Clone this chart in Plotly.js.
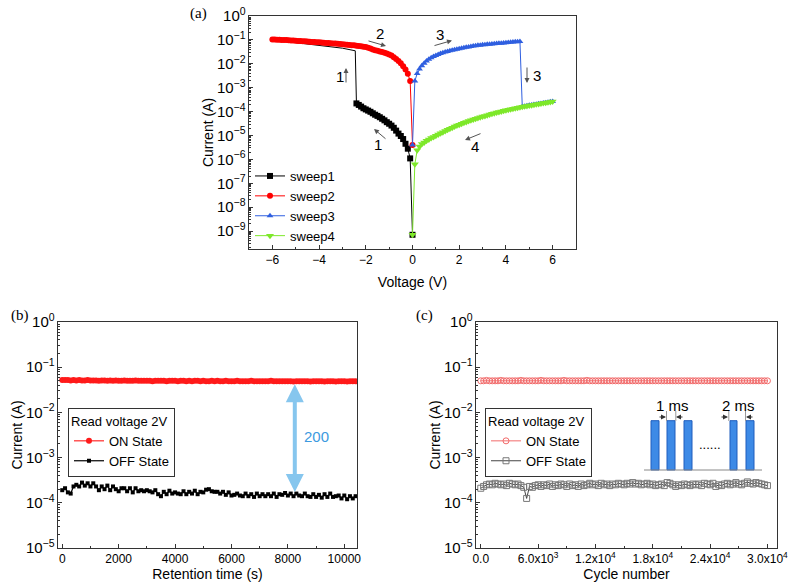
<!DOCTYPE html>
<html>
<head>
<meta charset="utf-8">
<script src="https://cdn.plot.ly/plotly-3.0.1.min.js"></script>
<style>html,body{margin:0;padding:0;background:#fff}#chart{width:791px;height:585px}</style>
</head>
<body>
<div id="chart"></div>
<script>
// ---------- Panel (a): I-V sweeps ----------
var sweep1V = [0,-0.1,-0.2,-0.3,-0.4,-0.5,-0.6,-0.7,-0.8,-0.9,-1.0,-1.1,-1.2,-1.3,-1.4,-1.5,-1.6,-1.7,-1.8,-1.9,-2.0,-2.1,-2.2,-2.3,-2.4];
var sweep1I = [7e-10,1.1e-6,2.8e-6,4.5e-6,7.1e-6,9.5e-6,1.2e-5,1.6e-5,2.1e-5,2.6e-5,3.1e-5,3.6e-5,4.3e-5,5.0e-5,5.8e-5,6.6e-5,7.4e-5,8.5e-5,9.8e-5,1.1e-4,1.23e-4,1.38e-4,1.62e-4,1.9e-4,2.2e-4];
var sweep1OnV = [-2.4,-2.45,-3.0,-4.0,-5.0,-6.0];
var sweep1OnI = [2.2e-4,3.5e-2,4.5e-2,6.0e-2,7.9e-2,1.0e-1];

var sweep2V = [-6.0,-5.9,-5.8,-5.7,-5.6,-5.5,-5.4,-5.3,-5.2,-5.1,-5.0,-4.9,-4.8,-4.7,-4.6,-4.5,-4.4,-4.3,-4.2,-4.1,-4.0,-3.9,-3.8,-3.7,-3.6,-3.5,-3.4,-3.3,-3.2,-3.1,-3.0,-2.9,-2.8,-2.7,-2.6,-2.5,-2.4,-2.3,-2.2,-2.1,-2.0,-1.9,-1.8,-1.7,-1.6,-1.5,-1.4,-1.3,-1.2,-1.1,-1.0,-0.9,-0.8,-0.7,-0.6,-0.5,-0.4,-0.3,-0.2,-0.1,0.0];
var sweep2I = [0.105,0.103,0.102,0.101,0.100,0.099,0.098,0.097,0.095,0.094,0.093,0.091,0.089,0.088,0.087,0.085,0.083,0.082,0.081,0.080,0.079,0.077,0.076,0.075,0.074,0.072,0.071,0.070,0.069,0.067,0.066,0.064,0.063,0.061,0.060,0.059,0.0575,0.056,0.054,0.052,0.050,0.047,0.044,0.040,0.037,0.035,0.033,0.031,0.029,0.027,0.0245,0.022,0.019,0.016,0.013,0.0105,0.0079,0.0058,0.0038,0.0019,4e-6];

var sweep3V = [0.0,0.1,0.2,0.3,0.4,0.5,0.6,0.7,0.8,0.9,1.0,1.1,1.2,1.3,1.4,1.5,1.6,1.7,1.8,1.9,2.0,2.1,2.2,2.3,2.4,2.5,2.6,2.7,2.8,2.9,3.0,3.1,3.2,3.3,3.4,3.5,3.6,3.7,3.8,3.9,4.0,4.1,4.2,4.3,4.4,4.5,4.6,4.7,4.8,4.9,5.0,5.1,5.2,5.3,5.4,5.5,5.6,5.7,5.8,5.9,6.0];
var sweep3I = [4e-6,1.9e-3,3.9e-3,6.0e-3,8.3e-3,1.05e-2,1.3e-2,1.55e-2,1.8e-2,2.0e-2,2.2e-2,2.45e-2,2.7e-2,2.9e-2,3.1e-2,3.3e-2,3.5e-2,3.7e-2,3.9e-2,4.1e-2,4.3e-2,4.5e-2,4.7e-2,4.9e-2,5.1e-2,5.3e-2,5.5e-2,5.7e-2,5.9e-2,6.0e-2,6.2e-2,6.3e-2,6.5e-2,6.6e-2,6.8e-2,6.9e-2,7.1e-2,7.2e-2,7.3e-2,7.5e-2,7.6e-2,7.8e-2,7.9e-2,8.1e-2,8.3e-2,8.4e-2,8.6e-2,1.6e-4,1.68e-4,1.75e-4,1.82e-4,1.9e-4,1.98e-4,2.05e-4,2.12e-4,2.2e-4,2.28e-4,2.36e-4,2.45e-4,2.55e-4,2.65e-4];

var sweep4V = [6.0,5.9,5.8,5.7,5.6,5.5,5.4,5.3,5.2,5.1,5.0,4.9,4.8,4.7,4.6,4.5,4.4,4.3,4.2,4.1,4.0,3.9,3.8,3.7,3.6,3.5,3.4,3.3,3.2,3.1,3.0,2.9,2.8,2.7,2.6,2.5,2.4,2.3,2.2,2.1,2.0,1.9,1.8,1.7,1.6,1.5,1.4,1.3,1.2,1.1,1.0,0.9,0.8,0.7,0.6,0.5,0.4,0.3,0.2,0.1,0.0];
var sweep4I = [2.63e-4,2.54e-4,2.45e-4,2.37e-4,2.29e-4,2.19e-4,2.09e-4,2.02e-4,1.95e-4,1.86e-4,1.78e-4,1.72e-4,1.66e-4,1.58e-4,1.51e-4,1.45e-4,1.38e-4,1.32e-4,1.26e-4,1.2e-4,1.15e-4,1.08e-4,1.02e-4,9.7e-5,9.1e-5,8.6e-5,8.1e-5,7.6e-5,7.1e-5,6.6e-5,6.2e-5,5.75e-5,5.4e-5,5.0e-5,4.7e-5,4.3e-5,4.0e-5,3.7e-5,3.4e-5,3.1e-5,2.8e-5,2.6e-5,2.35e-5,2.1e-5,1.9e-5,1.72e-5,1.55e-5,1.38e-5,1.23e-5,1.1e-5,9.8e-6,8.7e-6,7.8e-6,6.8e-6,6.0e-6,5.1e-6,4.4e-6,3.5e-6,2.4e-6,6.3e-7,7e-10];

// ---------- Panel (b): retention ----------
var timeB = [0,100,200,300,400,500,600,700,800,900,1000,1100,1200,1300,1400,1500,1600,1700,1800,1900,2000,2100,2200,2300,2400,2500,2600,2700,2800,2900,3000,3100,3200,3300,3400,3500,3600,3700,3800,3900,4000,4100,4200,4300,4400,4500,4600,4700,4800,4900,5000,5100,5200,5300,5400,5500,5600,5700,5800,5900,6000,6100,6200,6300,6400,6500,6600,6700,6800,6900,7000,7100,7200,7300,7400,7500,7600,7700,7800,7900,8000,8100,8200,8300,8400,8500,8600,8700,8800,8900,9000,9100,9200,9300,9400,9500,9600,9700,9800,9900,10000,10100,10200,10300,10400];
var onB = [0.052,0.052,0.052,0.051,0.052,0.051,0.052,0.051,0.051,0.052,
0.051,0.051,0.051,0.050,0.051,0.051,0.050,0.051,0.050,0.051,
0.050,0.050,0.051,0.050,0.050,0.050,0.051,0.050,0.050,0.050,
0.050,0.050,0.049,0.050,0.050,0.050,0.050,0.049,0.050,0.050,
0.050,0.049,0.050,0.050,0.049,0.050,0.049,0.050,0.050,0.049,
0.050,0.049,0.049,0.050,0.049,0.050,0.049,0.049,0.050,0.049,
0.049,0.049,0.050,0.049,0.049,0.049,0.049,0.050,0.049,0.049,
0.049,0.049,0.049,0.049,0.050,0.049,0.049,0.049,0.049,0.049,
0.049,0.049,0.048,0.049,0.049,0.049,0.049,0.049,0.048,0.049,
0.049,0.049,0.049,0.048,0.049,0.049,0.049,0.048,0.049,0.049,
0.049,0.048,0.049,0.049,0.049];
var offB = [1.9e-4,2.1e-4,1.7e-4,1.6e-4,2.3e-4,2.5e-4,2.3e-4,2.8e-4,2.4e-4,2.7e-4,
2.3e-4,2.7e-4,2.3e-4,1.9e-4,2.3e-4,2.0e-4,2.4e-4,1.9e-4,2.3e-4,2.0e-4,
1.8e-4,2.1e-4,2.1e-4,1.8e-4,2.1e-4,1.7e-4,2.1e-4,1.8e-4,1.9e-4,1.8e-4,
1.9e-4,1.8e-4,1.7e-4,1.9e-4,1.55e-4,1.4e-4,1.75e-4,1.55e-4,1.85e-4,1.6e-4,
1.7e-4,1.6e-4,1.55e-4,1.8e-4,1.55e-4,1.75e-4,1.6e-4,1.85e-4,1.55e-4,1.75e-4,
1.7e-4,1.95e-4,2.0e-4,1.8e-4,1.75e-4,1.75e-4,1.6e-4,1.75e-4,1.5e-4,1.7e-4,
1.45e-4,1.5e-4,1.6e-4,1.45e-4,1.4e-4,1.6e-4,1.4e-4,1.55e-4,1.35e-4,1.6e-4,
1.4e-4,1.55e-4,1.4e-4,1.55e-4,1.4e-4,1.6e-4,1.35e-4,1.55e-4,1.5e-4,1.65e-4,
1.45e-4,1.6e-4,1.4e-4,1.6e-4,1.45e-4,1.4e-4,1.6e-4,1.4e-4,1.35e-4,1.55e-4,
1.35e-4,1.5e-4,1.3e-4,1.55e-4,1.35e-4,1.6e-4,1.35e-4,1.4e-4,1.45e-4,1.25e-4,
1.45e-4,1.2e-4,1.4e-4,1.25e-4,1.4e-4];

// ---------- Panel (c): endurance ----------
var cycleC = [0,300,600,900,1200,1500,1800,2100,2400,2700,3000,3300,3600,3900,4200,4500,4800,5100,5400,5700,6000,6300,6600,6900,7200,7500,7800,8100,8400,8700,9000,9300,9600,9900,10200,10500,10800,11100,11400,11700,12000,12300,12600,12900,13200,13500,13800,14100,14400,14700,15000,15300,15600,15900,16200,16500,16800,17100,17400,17700,18000,18300,18600,18900,19200,19500,19800,20100,20400,20700,21000,21300,21600,21900,22200,22500,22800,23100,23400,23700,24000,24300,24600,24900,25200,25500,25800,26100,26400,26700,27000,27300,27600,27900,28200,28500,28800,29100,29400,29700,30000];
var onC = [0.050,0.050,0.051,0.050,0.050,0.050,0.050,0.051,0.050,0.050,
0.050,0.050,0.050,0.050,0.051,0.050,0.050,0.050,0.050,0.050,
0.050,0.051,0.050,0.050,0.050,0.050,0.050,0.050,0.050,0.051,
0.050,0.050,0.050,0.050,0.050,0.050,0.050,0.051,0.050,0.050,
0.050,0.050,0.050,0.050,0.050,0.050,0.050,0.050,0.050,0.050,
0.050,0.050,0.050,0.050,0.050,0.050,0.050,0.050,0.050,0.050,
0.050,0.050,0.050,0.050,0.050,0.050,0.050,0.050,0.050,0.050,
0.050,0.050,0.050,0.050,0.050,0.050,0.050,0.050,0.050,0.050,
0.050,0.050,0.050,0.050,0.050,0.050,0.050,0.050,0.050,0.050,
0.050,0.050,0.050,0.050,0.050,0.050,0.050,0.050,0.050,0.050,
0.050];
var offC = [2.1e-4,2.3e-4,2.5e-4,2.6e-4,2.5e-4,2.7e-4,2.6e-4,2.5e-4,2.6e-4,2.4e-4,
2.7e-4,2.6e-4,2.5e-4,2.6e-4,2.4e-4,2.2e-4,1.25e-4,2.3e-4,2.2e-4,2.4e-4,
2.5e-4,2.3e-4,2.5e-4,2.4e-4,2.6e-4,2.3e-4,2.5e-4,2.4e-4,2.6e-4,2.5e-4,
2.3e-4,2.6e-4,2.4e-4,2.5e-4,2.3e-4,2.6e-4,2.4e-4,2.5e-4,2.7e-4,2.5e-4,
2.6e-4,2.4e-4,2.7e-4,2.5e-4,2.6e-4,2.4e-4,2.6e-4,2.5e-4,2.7e-4,2.6e-4,
2.5e-4,2.7e-4,2.6e-4,2.8e-4,2.6e-4,2.7e-4,2.5e-4,2.6e-4,2.7e-4,2.5e-4,
2.6e-4,2.4e-4,2.5e-4,2.6e-4,2.4e-4,2.8e-4,2.7e-4,2.5e-4,2.3e-4,2.5e-4,
2.4e-4,2.6e-4,2.5e-4,2.4e-4,2.6e-4,2.5e-4,2.6e-4,2.4e-4,2.7e-4,2.6e-4,
2.5e-4,2.7e-4,2.3e-4,2.5e-4,2.4e-4,2.6e-4,2.7e-4,2.5e-4,2.6e-4,2.8e-4,
2.6e-4,2.5e-4,2.7e-4,2.9e-4,2.7e-4,2.6e-4,2.8e-4,2.7e-4,2.6e-4,2.5e-4,
2.4e-4];

var cTickVals = [0,6000,12000,18000,24000,30000];
var cTickText = ['0.0','6.0x10<sup>3</sup>','1.2x10<sup>4</sup>','1.8x10<sup>4</sup>','2.4x10<sup>4</sup>','3.0x10<sup>4</sup>'];

// ---------- helpers (positions in page pixels) ----------
var W = 791, H = 585;
function PX(x){ return x / W; }
function PY(y){ return 1 - y / H; }
var FONT = 'Liberation Sans, Arial, sans-serif';
var AXC = '#333';

function logAxis(domain, anchor, range){
  return {
    domain: domain, anchor: anchor, type: 'log', range: range,
    dtick: 1, exponentformat: 'power', labelalias: {'1': '10<sup>0</sup>'},
    ticks: 'inside', ticklen: 4, tickcolor: AXC, showline: true, linecolor: AXC, linewidth: 1,
    mirror: true, showgrid: false, zeroline: false,
    minor: {ticks: 'inside', ticklen: 2, tickcolor: AXC, dtick: 'D1', showgrid: false},
    tickfont: {family: FONT, size: 12, color: '#000'},
    title: {text: 'Current (A)', font: {family: FONT, size: 14, color: '#000'}, standoff: 0}
  };
}
function linAxis(domain, anchor, range, title, standoff, extra){
  var a = {
    domain: domain, anchor: anchor, range: range,
    ticks: 'inside', ticklen: 4, tickcolor: AXC, showline: true, linecolor: AXC, linewidth: 1,
    mirror: true, showgrid: false, zeroline: false,
    tickfont: {family: FONT, size: 12, color: '#000'},
    title: {text: title, font: {family: FONT, size: 14, color: '#000'}, standoff: standoff}
  };
  for (var k in extra) a[k] = extra[k];
  return a;
}

var traces = [
  {x: sweep1V, y: sweep1I, name: 'sweep1', mode: 'lines+markers', xaxis: 'x', yaxis: 'y', legend: 'legend', legendgroup: 's1',
   line: {color: '#000', width: 1}, marker: {symbol: 'square', size: 6, color: '#000'}},
  {x: sweep1OnV, y: sweep1OnI, name: 'sweep1', mode: 'lines', xaxis: 'x', yaxis: 'y', legendgroup: 's1', showlegend: false,
   line: {color: '#000', width: 1}},
  {x: sweep2V, y: sweep2I, name: 'sweep2', mode: 'lines+markers', xaxis: 'x', yaxis: 'y', legend: 'legend',
   line: {color: '#ff0000', width: 1}, marker: {symbol: 'circle', size: 6, color: '#ff0000'}},
  {x: sweep3V, y: sweep3I, name: 'sweep3', mode: 'lines+markers', xaxis: 'x', yaxis: 'y', legend: 'legend',
   line: {color: '#2f5fe0', width: 1}, marker: {symbol: 'triangle-up', size: 6, color: '#2f5fe0'}},
  {x: sweep4V, y: sweep4I, name: 'sweep4', mode: 'lines+markers', xaxis: 'x', yaxis: 'y', legend: 'legend',
   line: {color: '#7ee82a', width: 1}, marker: {symbol: 'triangle-down', size: 7, color: '#7ee82a'}},

  {x: timeB, y: onB, name: 'ON State', mode: 'lines+markers', xaxis: 'x2', yaxis: 'y2', legend: 'legend2',
   line: {color: '#ff0000', width: 1}, marker: {symbol: 'circle', size: 6, color: '#ff1a1a'}},
  {x: timeB, y: offB, name: 'OFF State', mode: 'lines+markers', xaxis: 'x2', yaxis: 'y2', legend: 'legend2',
   line: {color: '#000', width: 1.2}, marker: {symbol: 'square', size: 4, color: '#000'}},

  {x: cycleC, y: onC, name: 'ON State', mode: 'lines+markers', xaxis: 'x3', yaxis: 'y3', legend: 'legend3',
   line: {color: '#f26b6b', width: 1}, marker: {symbol: 'circle-open', size: 6, color: '#f26b6b', line: {width: 1}}},
  {x: cycleC, y: offC, name: 'OFF State', mode: 'lines+markers', xaxis: 'x3', yaxis: 'y3', legend: 'legend3',
   line: {color: '#444', width: 1}, marker: {symbol: 'square-open', size: 6, color: '#777', line: {width: 1}}}
];

var legendCommon = {font: {family: FONT, size: 13, color: '#000'}, xanchor: 'left', yanchor: 'top', itemwidth: 30, tracegroupgap: 0};
function mkLegend(x, y, boxed, title){
  var l = {x: x, y: y, bgcolor: 'rgba(255,255,255,0)'};
  for (var k in legendCommon) l[k] = legendCommon[k];
  if (boxed){ l.bordercolor = '#333'; l.borderwidth = 1; l.bgcolor = '#fff'; }
  if (title) l.title = {text: title, font: {family: FONT, size: 13, color: '#000'}};
  return l;
}

var annotations = [];
function label(txt, x, y, size, extra){
  var a = {text: txt, xref: 'paper', yref: 'paper', x: PX(x), y: PY(y), showarrow: false,
    xanchor: 'center', yanchor: 'middle', font: {family: FONT, size: size || 14, color: '#000'}};
  for (var k in extra) a[k] = extra[k];
  annotations.push(a);
}
function arrow(hx, hy, tx, ty, color){
  annotations.push({text: '', xref: 'paper', yref: 'paper', x: PX(hx), y: PY(hy), ax: tx - hx, ay: ty - hy,
    showarrow: true, arrowhead: 2, arrowsize: 1, arrowwidth: 1, arrowcolor: color || '#555'});
}
var SERIF = 'Liberation Serif, Times New Roman, serif';
label('(a)', 198, 13, 15, {font: {family: SERIF, size: 15, color: '#000'}});
label('(b)', 20, 315, 15, {font: {family: SERIF, size: 15, color: '#000'}});
label('(c)', 424, 315, 15, {font: {family: SERIF, size: 15, color: '#000'}});

label('2', 380, 33, 15); arrow(386, 46, 367, 40.5);
label('3', 440, 34, 15); arrow(452, 40.5, 433, 46);
label('1', 340, 77, 15); arrow(346, 68, 346, 84);
label('3', 537, 75, 15); arrow(527, 83, 527, 66);
label('1', 378, 144, 15); arrow(374, 129, 387, 140);
label('4', 475, 146, 15); arrow(465, 140, 482, 133);

// retention window double arrow
annotations.push({text: '', xref: 'x2', yref: 'y2', axref: 'x2', ayref: 'y2',
  x: 8245, y: Math.log10(0.042), ax: 8245, ay: Math.log10(1.6e-4),
  showarrow: true, arrowside: 'end+start', arrowhead: 2, arrowsize: 0.9, arrowwidth: 4, arrowcolor: '#86c6ee'});
annotations.push({text: '200', xref: 'x2', yref: 'y2', x: 9020, y: Math.log10(3e-3), showarrow: false,
  font: {family: FONT, size: 15, color: '#3d9ae0'}});

// inset pulse diagram in (c)
label('1 ms', 672, 405, 15);
label('2 ms', 738, 405, 15);
label('......', 710, 444, 13);
arrow(666, 417, 658, 417, '#333');
arrow(676, 417, 684, 417, '#333');
arrow(728, 417, 720, 417, '#333');
arrow(746, 417, 754, 417, '#333');

var shapes = [];
var bars = [[651,659],[667,675],[684,692],[730,737],[746,754]];
bars.forEach(function(b){
  shapes.push({type: 'rect', xref: 'paper', yref: 'paper', x0: PX(b[0]), x1: PX(b[1]), y0: PY(470), y1: PY(420.7),
    fillcolor: '#3d8ae6', line: {color: '#1f5dbd', width: 1}});
});
shapes.push({type: 'line', xref: 'paper', yref: 'paper', x0: PX(644), x1: PX(762), y0: PY(470), y1: PY(470), line: {color: '#888', width: 1}});
[666.5, 675.8, 728.8, 745.5].forEach(function(x){
  shapes.push({type: 'line', xref: 'paper', yref: 'paper', x0: PX(x), x1: PX(x), y0: PY(411), y1: PY(421), line: {color: '#999', width: 1}});
});

var layout = {
  width: W, height: H, margin: {l: 0, r: 0, t: 0, b: 0},
  paper_bgcolor: '#fff', plot_bgcolor: '#fff',
  font: {family: FONT, color: '#000'},
  xaxis: linAxis([PX(249), PX(576)], 'y', [-7, 7], 'Voltage (V)', 10, {dtick: 2, minor: {ticks: 'inside', ticklen: 2, dtick: 1, tickcolor: AXC}}),
  yaxis: logAxis([PY(249), PY(16)], 'x', [-9.75, 0]),
  xaxis2: linAxis([PX(58), PX(357)], 'y2', [-150, 10450], 'Retention time (s)', 3, {dtick: 2000, tickformat: 'd', minor: {ticks: 'inside', ticklen: 2, dtick: 1000, tickcolor: AXC}}),
  yaxis2: logAxis([PY(548), PY(322)], 'x2', [-5, 0]),
  xaxis3: linAxis([PX(476), PX(777)], 'y3', [-500, 31000], 'Cycle number', 0, {tickmode: 'array', tickvals: cTickVals, ticktext: cTickText,
    minor: {ticks: 'inside', ticklen: 2, tickmode: 'linear', tick0: 0, dtick: 3000, tickcolor: AXC}}),
  yaxis3: logAxis([PY(548), PY(322)], 'x3', [-5, 0]),
  legend: mkLegend(PX(250), PY(161), false, null),
  legend2: mkLegend(PX(68), PY(408), true, 'Read voltage 2V'),
  legend3: mkLegend(PX(485), PY(408), true, 'Read voltage 2V'),
  annotations: annotations,
  shapes: shapes,
  showlegend: true
};

Plotly.newPlot('chart', traces, layout, {displayModeBar: false, staticPlot: true});
</script>
</body>
</html>
